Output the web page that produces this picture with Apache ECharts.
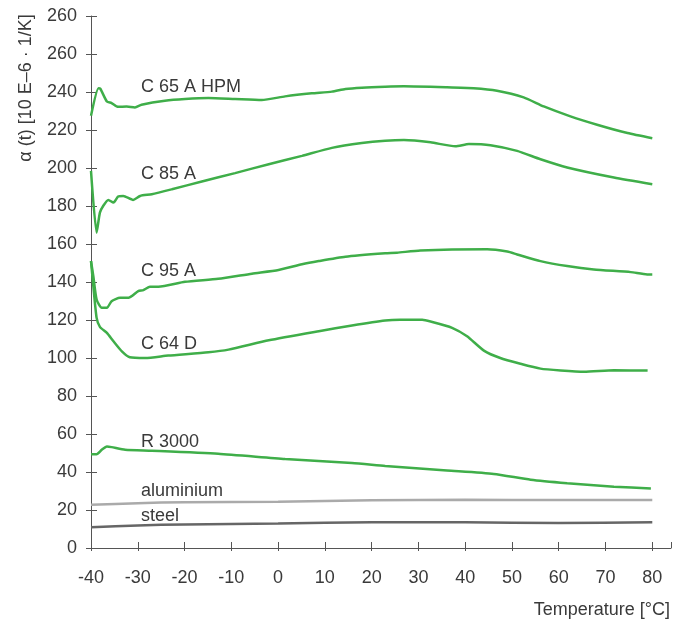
<!DOCTYPE html>
<html>
<head>
<meta charset="utf-8">
<script src="https://cdn.jsdelivr.net/npm/echarts@6/dist/echarts.min.js"></script>
<style>
  html, body { margin: 0; padding: 0; background: #fff; }
  #chart { width: 683px; height: 624px; }
</style>
</head>
<body>
<div id="chart"></div>
<script>
// y tick labels as printed (the top one repeats 260 in the original)
var yTickLabels = ['0', '20', '40', '60', '80', '100', '120', '140', '160', '180', '200', '220', '240', '260', '260'];

var c65 = [[-40, 227.5], [-38.4, 242], [-38, 241.7], [-36.6, 235], [-35.6, 234.2], [-34.2, 232.2], [-32.4, 232.4],
  [-30.6, 231.9], [-29.2, 233.3], [-24.2, 235.4], [-19.9, 236.3], [-14.9, 236.8], [-9.2, 236.3], [-3.5, 235.8],
  [1.5, 237.7], [7.2, 239.3], [11.5, 240.2], [14.4, 241.6], [17.9, 242.3], [22.9, 242.8], [26.9, 243],
  [36.1, 242.5], [41.8, 242], [46.8, 240.7], [52.5, 237.2], [56.8, 232.4], [62.5, 227.2], [68.2, 222.8],
  [74.7, 218.4], [80, 215.7]];

var c85 = [[-40, 198.5], [-38.8, 166], [-38.1, 176.5], [-37.4, 180], [-36.3, 183.2], [-35.2, 181.8], [-34.2, 185],
  [-33.1, 185.3], [-31, 183.2], [-29.5, 185.3], [-27, 186.2], [-22.7, 188.8], [-16.3, 192.9], [-9.2, 197.3],
  [-2, 202], [5.1, 206.4], [11.5, 210.6], [17.9, 213.1], [22.9, 214.3], [26.9, 214.7], [32.6, 213.5],
  [37.9, 211.4], [40.8, 212.6], [45.4, 212], [51.1, 209], [56.1, 204.6], [61.8, 200.3], [71.8, 195], [80, 191.5]];

var c95 = [[-40, 151], [-39.5, 143.1], [-38.8, 130.8], [-37.7, 126.4], [-36.6, 126.4], [-35.6, 129.9], [-33.8, 131.7],
  [-32, 131.7], [-29.9, 135.2], [-28.8, 135.7], [-27.4, 137.5], [-25.6, 137.5], [-19.9, 140.1], [-12.8, 141.7],
  [-5.6, 144.4], [0.1, 146.3], [5.1, 149.3], [8.7, 151], [14.4, 153.3], [22.9, 155.1], [25.4, 155.4],
  [30.4, 156.6], [44.7, 157.2], [49, 156], [51.1, 154.5], [56.1, 151], [61.8, 148.4], [67.5, 146.6],
  [75.4, 145.2], [78.9, 144], [80, 144]];

var c64 = [[-40, 151], [-39.5, 137.8], [-38.8, 121.1], [-38.1, 116.4], [-36.6, 113.2], [-35.2, 108.8], [-33.4, 103.5],
  [-31.7, 100.4], [-28.4, 100], [-23.5, 101.3], [-14.9, 103], [-10.6, 104.4], [-2, 109.3], [8.7, 114.1],
  [15.8, 117.1], [22.9, 119.7], [26.1, 120.1], [30.8, 120.1], [32.6, 119.2], [37.2, 115.9], [40.4, 111.4],
  [44, 103.9], [47.5, 100], [51.8, 97], [56.1, 94.4], [60.4, 93.4], [65.4, 92.7], [71.8, 93.5], [79, 93.4]];

var r3000 = [[-40, 49.4], [-38.8, 49.4], [-37.7, 51.7], [-36.6, 53.4], [-35.6, 53.1], [-32.7, 51.7], [-27, 51.2],
  [-12.8, 49.6], [1.5, 46.8], [15.8, 44.7], [22.9, 43.2], [36.1, 40.8], [46.1, 39], [54, 35.9], [61.8, 34.1],
  [71.8, 32.3], [79.7, 31.3]];

var aluminium = [[-40, 22.7], [-30, 23.6], [-20, 24.1], [0, 24.3], [20, 25.1], [40, 25.4], [60, 25.2], [80, 25.3]];

var steel = [[-40, 10.9], [-30, 11.9], [-20, 12.4], [0, 12.9], [20, 13.6], [40, 13.5], [60, 13.2], [80, 13.5]];

var GREEN = '#3fae49';
var AXIS = '#555555';
var TEXT = '#3a3a3a';
var FONT = 'Liberation Sans';
var CLEAR = 'rgba(0,0,0,0)';

function line(name, data, color, labelY) {
  return {
    name: name,
    type: 'line',
    data: data,
    symbol: 'none',
    smooth: 0.2,
    lineStyle: { color: color, width: 2.5 },
    markPoint: {
      symbol: 'circle',
      symbolSize: 0,
      label: {
        show: true,
        position: 'right',
        distance: 0,
        formatter: name,
        color: TEXT,
        fontFamily: FONT,
        fontSize: 18
      },
      data: [{ coord: [-29.3, labelY] }]
    }
  };
}

var chart = echarts.init(document.getElementById('chart'));
chart.setOption({
  animation: false,
  grid: { left: 91, right: 12, top: 16, bottom: 76 },
  xAxis: [{
    type: 'value', min: -40, max: 84, interval: 10,
    axisLine: { show: true, onZero: false, lineStyle: { color: AXIS, width: 1 } },
    axisTick: { show: true, inside: false, length: 3, lineStyle: { color: AXIS } },
    axisLabel: { showMaxLabel: false, margin: 21, color: TEXT, fontFamily: FONT, fontSize: 18 },
    splitLine: { show: false }
  }, {
    // second axis only for the tick marks that point into the plot
    type: 'value', min: -40, max: 84, interval: 10, position: 'bottom',
    axisLine: { show: true, onZero: false, lineStyle: { color: CLEAR } },
    axisTick: { show: true, inside: true, length: 6, lineStyle: { color: AXIS } },
    axisLabel: { show: false },
    splitLine: { show: false }
  }],
  yAxis: [{
    type: 'value', min: 0, max: 280, interval: 20,
    axisLine: { show: true, onZero: false, lineStyle: { color: AXIS, width: 1 } },
    axisTick: { show: true, inside: false, length: 5, lineStyle: { color: AXIS } },
    axisLabel: {
      margin: 14, color: TEXT, fontFamily: FONT, fontSize: 18,
      formatter: function (v) { return yTickLabels[Math.round(v / 20)]; }
    },
    splitLine: { show: false }
  }, {
    type: 'value', min: 0, max: 280, interval: 20, position: 'left',
    axisLine: { show: true, onZero: false, lineStyle: { color: CLEAR } },
    axisTick: { show: true, inside: true, length: 6, lineStyle: { color: AXIS } },
    axisLabel: { show: false },
    splitLine: { show: false }
  }],
  graphic: [{
    type: 'text', x: 26, y: 88, rotation: Math.PI / 2,
    style: { text: 'α (t) [10 E–6 · 1/K]', fill: TEXT, font: '18px "Liberation Sans"', align: 'center', verticalAlign: 'middle' }
  }, {
    type: 'text', x: 670, y: 610,
    style: { text: 'Temperature [°C]', fill: TEXT, font: '18px "Liberation Sans"', align: 'right', verticalAlign: 'middle' }
  }],
  series: [
    line('C 65 A HPM', c65, GREEN, 242.6),
    line('C 85 A', c85, GREEN, 196.7),
    line('C 95 A', c95, GREEN, 145.6),
    line('C 64 D', c64, GREEN, 107.1),
    line('R 3000', r3000, GREEN, 55.9),
    line('aluminium', aluminium, '#aaaaaa', 30.1),
    line('steel', steel, '#666666', 16.9)
  ]
});
</script>
</body>
</html>
